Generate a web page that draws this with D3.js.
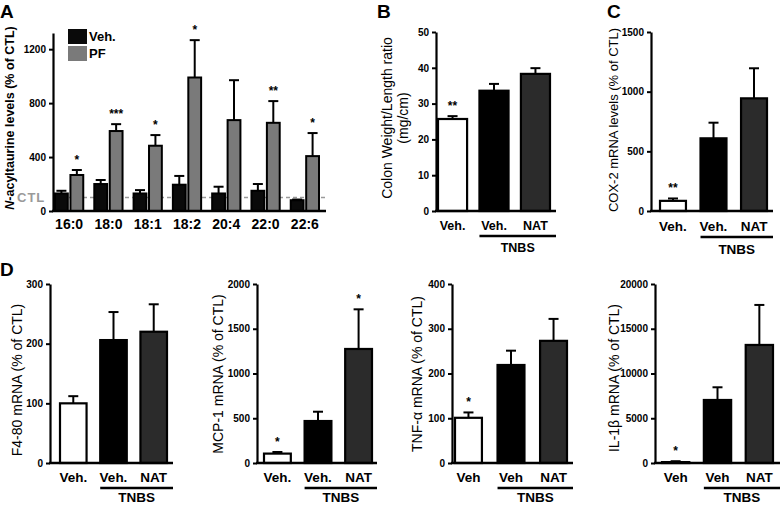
<!DOCTYPE html>
<html>
<head>
<meta charset="utf-8">
<script src="https://cdn.jsdelivr.net/npm/d3@7"></script>
<style>
  body { margin: 0; background: #fff; }
  svg { display: block; font-family: "Liberation Sans", Arial, sans-serif; }
</style>
</head>
<body>
<div id="fig"></div>
<script>
// ---- Panel A data (N-acyltaurine levels, % of CTL)
const aCategories = ["16:0", "18:0", "18:1", "18:2", "20:4", "22:0", "22:6"];
const aVehMean = [130, 200, 130, 195, 130, 150, 80];
const aVehSem = [20, 30, 25, 65, 50, 50, 5];
const aPfMean = [267, 593, 484, 990, 674, 654, 407];
const aPfSem = [37, 51, 79, 277, 296, 161, 171];
const aStars = ["*", "***", "*", "*", "", "**", "*"];
const aTicks = [0, 400, 800, 1200];
const ctlLevel = 100;

// ---- Panels B, C, D (Veh / TNBS Veh / TNBS NAT)
const bLabels = ["Veh.", "Veh.", "NAT"];
const bMean = [25.7, 33.6, 38.3];
const bSem = [0.8, 1.9, 1.6];
const bStars = ["**", "", ""];
const bTicks = [0, 10, 20, 30, 40, 50];

const cLabels = ["Veh.", "Veh.", "NAT"];
const cMean = [85, 609, 944];
const cSem = [20, 131, 252];
const cStars = ["**", "", ""];
const cTicks = [0, 500, 1000, 1500];

const f480Labels = ["Veh.", "Veh.", "NAT"];
const f480Mean = [100, 206, 220];
const f480Sem = [12, 47, 46];
const f480Stars = ["", "", ""];
const f480Ticks = [0, 100, 200, 300];

const mcpLabels = ["Veh.", "Veh.", "NAT"];
const mcpMean = [105, 469, 1274];
const mcpSem = [18, 104, 443];
const mcpStars = ["*", "", "*"];
const mcpTicks = [0, 500, 1000, 1500, 2000];

const tnfLabels = ["Veh", "Veh", "NAT"];
const tnfMean = [101, 219, 273];
const tnfSem = [12, 32, 49];
const tnfStars = ["*", "", ""];
const tnfTicks = [0, 100, 200, 300, 400];

const il1Labels = ["Veh", "Veh", "NAT"];
const il1Mean = [100, 7040, 13190];
const il1Sem = [100, 1420, 4470];
const il1Stars = ["*", "", ""];
const il1Ticks = [0, 5000, 10000, 15000, 20000];

const groupFill = ["#ffffff", "#000000", "#2b2b2b"];
const vehColor = "#0a0a0a";
const pfColor = "#7a7a7a";

const svg = d3.select("#fig").append("svg").attr("width", 780).attr("height", 505);

function yAxis(g, y, ticks, x) {
  const ax = g.append("g")
    .attr("transform", `translate(${x},0)`)
    .call(d3.axisLeft(y).tickValues(ticks).tickSize(4).tickSizeOuter(0).tickPadding(3).tickFormat(d3.format("d")));
  ax.select(".domain").attr("stroke-width", 2.2);
  ax.selectAll(".tick line").attr("stroke-width", 2);
  ax.selectAll(".tick text").attr("font-size", 10).attr("font-weight", "bold").attr("font-family", "Liberation Sans, Arial, sans-serif");
}

function xLine(g, x0, x1, y) {
  g.append("line").attr("x1", x0).attr("x2", x1).attr("y1", y).attr("y2", y)
    .attr("stroke", "#000").attr("stroke-width", 2.4);
}

function errBar(g, cx, yBar, yTop) {
  g.append("line").attr("x1", cx).attr("x2", cx).attr("y1", yBar).attr("y2", yTop)
    .attr("stroke", "#000").attr("stroke-width", 2);
  g.append("line").attr("x1", cx - 5).attr("x2", cx + 5).attr("y1", yTop).attr("y2", yTop)
    .attr("stroke", "#000").attr("stroke-width", 2);
}

function yLabel(g, lines, x, y, size, weight) {
  const t = g.append("text")
    .attr("transform", `translate(${x},${y}) rotate(-90)`)
    .attr("text-anchor", "middle")
    .attr("font-size", size).attr("font-weight", weight || "normal");
  lines.forEach((ln, i) => {
    const ts = t.append("tspan").attr("x", 0).attr("dy", i === 0 ? 0 : "1.15em");
    if (Array.isArray(ln)) ln.forEach(part => ts.append("tspan").attr("font-style", part.italic ? "italic" : null).text(part.t));
    else ts.text(ln);
  });
}

function panelLetter(txt, x, y) {
  svg.append("text").attr("x", x).attr("y", y).attr("font-size", 19).attr("font-weight", "bold").text(txt);
}

// ---- Panel A
(function () {
  const g = svg.append("g");
  const axisX = 53;
  const y = d3.scaleLinear().domain([0, 1320]).range([211, 33]);
  const x = d3.scaleBand().domain(aCategories).range([54, 320]).paddingInner(0.23).paddingOuter(0);
  const xs = d3.scaleBand().domain(["Veh.", "PF"]).range([0, x.bandwidth()]).paddingInner(0.04);

  // CTL dashed reference
  g.append("line").attr("x1", axisX + 2).attr("x2", 326).attr("y1", y(ctlLevel)).attr("y2", y(ctlLevel))
    .attr("stroke", "#9a9a9a").attr("stroke-width", 1.5).attr("stroke-dasharray", "4,3");
  g.append("text").attr("x", 17).attr("y", y(ctlLevel) + 4.5).attr("font-size", 13).attr("font-weight", "bold")
    .attr("fill", "#9a9a9a").attr("letter-spacing", 1).text("CTL");

  aCategories.forEach((c, i) => {
    [["Veh.", aVehMean[i], aVehSem[i], vehColor], ["PF", aPfMean[i], aPfSem[i], pfColor]].forEach(([k, m, s, col]) => {
      const bx = x(c) + xs(k);
      const cx = bx + xs.bandwidth() / 2;
      errBar(g, cx, y(m), y(m + s));
      g.append("rect").attr("x", bx + 1).attr("y", y(m)).attr("width", xs.bandwidth() - 2).attr("height", y(0) - y(m))
        .attr("fill", col).attr("stroke", "#000").attr("stroke-width", 2);
    });
    if (aStars[i]) {
      g.append("text").attr("x", x(c) + xs("PF") + xs.bandwidth() / 2).attr("y", y(aPfMean[i] + aPfSem[i]) - 6)
        .attr("text-anchor", "middle").attr("font-size", 12).attr("font-weight", "bold").text(aStars[i]);
    }
    g.append("text").attr("x", x(c) + x.bandwidth() / 2).attr("y", 229)
      .attr("text-anchor", "middle").attr("font-size", 14).attr("font-weight", "bold").text(c);
  });

  yAxis(g, y, aTicks, axisX);
  xLine(g, axisX - 1, 326, y(0));

  // legend
  const leg = [["Veh.", vehColor], ["PF", pfColor]];
  leg.forEach(([t, col], i) => {
    g.append("rect").attr("x", 68).attr("y", 29 + i * 17).attr("width", 19).attr("height", 15).attr("fill", col);
    g.append("text").attr("x", 89).attr("y", 41 + i * 17).attr("font-size", 13).attr("font-weight", "bold").text(t);
  });

  yLabel(g, [[{ t: "N", italic: true }, { t: "-acyltaurine levels (% of CTL)" }]], 14, 118, 12.5, "bold");
  panelLetter("A", 0, 18);
})();

// ---- Generic three-bar panel
function triPanel(o) {
  const g = svg.append("g");
  const y = d3.scaleLinear().domain([0, o.yMax]).range([o.y0, o.yTop]);
  const idx = o.labels.map((d, i) => i);
  const x = d3.scaleBand().domain(idx).range(o.xRange).paddingInner(o.pad).paddingOuter(0);

  idx.forEach(i => {
    const m = o.mean[i], s = o.sem[i];
    const cx = x(i) + x.bandwidth() / 2;
    errBar(g, cx, y(m), y(m + s));
    g.append("rect").attr("x", x(i) + 1).attr("y", y(m)).attr("width", x.bandwidth() - 2).attr("height", y(0) - y(m))
      .attr("fill", groupFill[i]).attr("stroke", "#000").attr("stroke-width", 2.2);
    if (o.stars[i]) {
      g.append("text").attr("x", cx).attr("y", y(m + s) - 6).attr("text-anchor", "middle")
        .attr("font-size", 12).attr("font-weight", "bold").text(o.stars[i]);
    }
    g.append("text").attr("x", cx).attr("y", o.labelY).attr("text-anchor", "middle")
      .attr("font-size", o.fs).attr("font-weight", "bold").text(o.labels[i]);
  });

  yAxis(g, y, o.ticks, o.axisX);
  xLine(g, o.axisX - 1, o.xEnd, o.y0);

  // TNBS bracket
  const tx0 = x(1) + 1;
  xLine(g, tx0, o.xEnd, o.tnbsY);
  g.append("text").attr("x", (tx0 + o.xEnd) / 2).attr("y", o.tnbsBase).attr("text-anchor", "middle")
    .attr("font-size", o.fs).attr("font-weight", "bold").text("TNBS");

  yLabel(g, o.title, o.titleX, o.titleY, o.titleSize, "normal");
}

triPanel({ labels: bLabels, mean: bMean, sem: bSem, stars: bStars, ticks: bTicks, yMax: 50,
  y0: 211, yTop: 32, axisX: 436, xRange: [437, 551], pad: 0.25, xEnd: 556, labelY: 230, tnbsY: 236, tnbsBase: 252, fs: 12.5,
  title: ["Colon Weight/Length ratio", "(mg/cm)"], titleX: 392, titleY: 118, titleSize: 14 });
panelLetter("B", 377, 18);

triPanel({ labels: cLabels, mean: cMean, sem: cSem, stars: cStars, ticks: cTicks, yMax: 1500,
  y0: 211, yTop: 32, axisX: 651, xRange: [659, 768], pad: 0.31, xEnd: 773, labelY: 231, tnbsY: 237, tnbsBase: 254, fs: 13.5,
  title: ["COX-2 mRNA levels (% of CTL)"], titleX: 618, titleY: 120, titleSize: 13 });
panelLetter("C", 607, 18);

triPanel({ labels: f480Labels, mean: f480Mean, sem: f480Sem, stars: f480Stars, ticks: f480Ticks, yMax: 300,
  y0: 463, yTop: 284, axisX: 50, xRange: [59, 168], pad: 0.29, xEnd: 173, labelY: 482, tnbsY: 488, tnbsBase: 502, fs: 13.5,
  title: ["F4-80 mRNA (% of CTL)"], titleX: 22, titleY: 380, titleSize: 14 });
panelLetter("D", 0, 276);

triPanel({ labels: mcpLabels, mean: mcpMean, sem: mcpSem, stars: mcpStars, ticks: mcpTicks, yMax: 2000,
  y0: 463, yTop: 284, axisX: 257, xRange: [263, 373], pad: 0.29, xEnd: 377, labelY: 482, tnbsY: 488, tnbsBase: 502, fs: 13.5,
  title: ["MCP-1 mRNA (% of CTL)"], titleX: 223, titleY: 374, titleSize: 14 });

triPanel({ labels: tnfLabels, mean: tnfMean, sem: tnfSem, stars: tnfStars, ticks: tnfTicks, yMax: 400,
  y0: 463, yTop: 284, axisX: 452, xRange: [454, 568], pad: 0.32, xEnd: 573, labelY: 482, tnbsY: 488, tnbsBase: 502, fs: 13.5,
  title: ["TNF-α mRNA (% of CTL)"], titleX: 422, titleY: 374, titleSize: 14 });

triPanel({ labels: il1Labels, mean: il1Mean, sem: il1Sem, stars: il1Stars, ticks: il1Ticks, yMax: 20000,
  y0: 463, yTop: 284, axisX: 655, xRange: [661, 774], pad: 0.3, xEnd: 780, labelY: 482, tnbsY: 488, tnbsBase: 502, fs: 13.5,
  title: ["IL-1β mRNA (% of CTL)"], titleX: 619, titleY: 378, titleSize: 14 });
</script>
</body>
</html>
